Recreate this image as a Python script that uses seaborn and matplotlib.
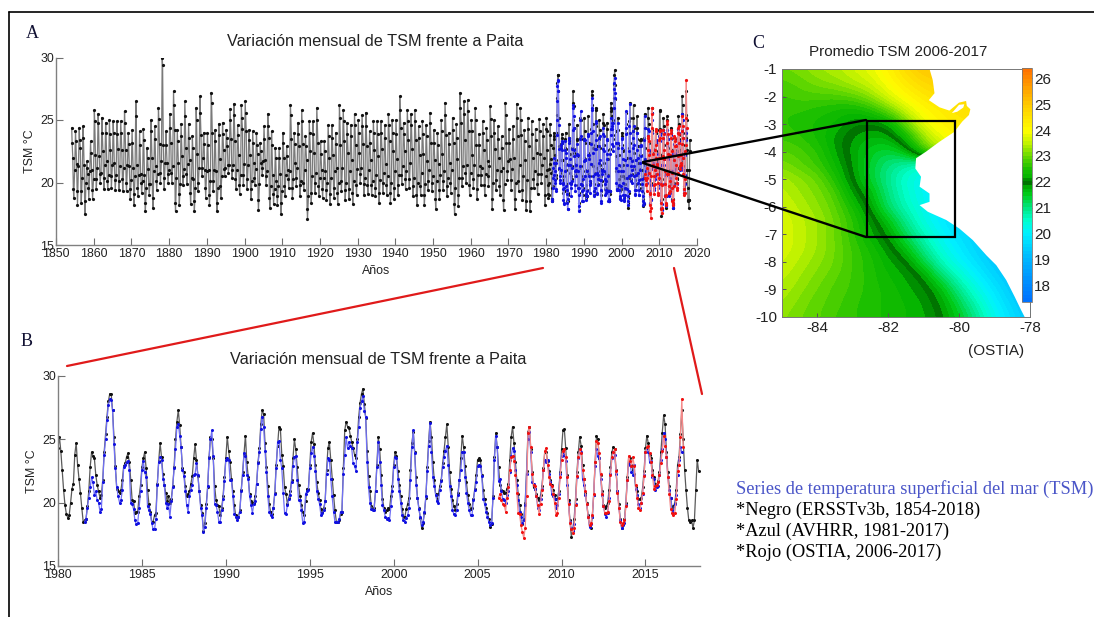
import numpy as np
import pandas as pd
import matplotlib
matplotlib.use("Agg")
import matplotlib.pyplot as plt
import seaborn as sns
from matplotlib.colors import LinearSegmentedColormap
from matplotlib.lines import Line2D

# ---- Panel A: ERSST 1854-1979, six readings per year
peak = [24.4,24.1,24.4,24.5,21.7,23.3,
 25.8,25.5,25.2,24.8,25.0,24.9,24.9,24.9,25.7,24.0,
 24.2,26.5,24.1,24.3,22.8,25.0,24.5,26.0,30.0,24.1,
 25.5,27.3,24.2,24.7,26.5,24.7,23.7,26.0,26.9,24.0,
 24.0,27.2,24.2,24.7,24.8,24.2,25.9,26.3,24.6,26.2,
 26.5,24.2,24.1,24.0,23.2,24.5,25.5,24.1,22.8,22.8,
 24.0,22.9,26.2,24.0,24.8,25.8,23.7,24.9,24.9,26.0,
 23.3,23.3,24.6,24.6,24.0,26.2,25.8,24.8,24.6,25.5,
 25.0,25.4,25.6,24.1,24.9,24.9,24.9,24.6,25.5,25.0,
 25.0,26.9,24.8,25.8,25.5,25.8,24.5,24.9,24.6,25.6,
 24.2,24.0,25.0,26.4,24.0,25.2,24.7,27.2,26.5,26.6,
 25.0,26.0,23.9,24.9,24.4,26.1,25.0,24.5,23.7,26.4,
 24.3,24.5,26.3,26.0,24.2,25.2,24.9,24.3,25.1,24.7]
after_peak = [23.2,23.3,23.4,23.6,21.2,22.4,
 24.9,24.8,24.0,24.0,23.9,24.0,23.9,24.0,24.8,23.1,
 23.2,25.3,23.0,23.4,22.0,24.1,23.5,25.1,29.4,23.0,
 24.4,26.2,23.3,23.7,25.3,23.6,22.8,25.0,25.6,23.1,
 23.0,26.4,23.3,23.8,23.9,23.6,25.0,25.4,23.8,25.2,
 25.6,23.4,23.2,23.0,22.5,23.5,24.5,23.0,22.0,22.0,
 23.2,22.1,25.4,23.1,23.9,24.9,22.9,24.0,23.9,25.0,
 22.3,22.5,23.7,23.6,23.1,25.2,24.9,23.9,23.7,24.6,
 24.0,24.5,24.5,23.2,24.0,23.9,24.0,23.6,24.6,24.0,
 23.9,25.8,23.9,24.9,24.6,24.9,23.6,23.9,23.7,24.8,
 23.2,23.0,24.1,25.4,23.1,24.2,23.6,26.0,25.5,25.7,
 24.1,25.0,23.0,24.0,23.4,25.1,24.0,23.5,22.8,25.4,
 23.2,23.5,25.2,25.0,23.3,24.3,23.9,23.4,24.1,23.7]
falling = [22.0,21.5,22.8,21.4,20.7,21.0,
 22.2,22.1,22.5,21.7,22.6,21.6,22.7,22.6,22.6,21.3,
 21.2,21.4,20.7,20.6,21.1,22.0,21.3,23.1,23.0,21.6,
 23.2,24.2,21.6,22.1,22.8,21.8,20.3,22.3,23.8,21.0,
 21.0,24.0,20.9,21.9,22.6,22.9,23.5,23.3,22.2,24.3,
 24.1,22.2,21.6,22.3,21.6,21.8,23.6,20.6,20.1,20.7,
 22.0,21.0,23.5,21.6,22.9,23.1,21.8,22.5,22.4,23.2,
 21.0,20.9,22.0,22.2,21.2,23.0,23.3,22.4,21.8,23.0,
 22.4,23.1,22.9,21.8,22.6,22.1,22.7,21.5,23.3,22.5,
 21.9,24.4,22.5,23.4,22.7,23.4,22.2,22.3,21.7,23.2,
 21.8,21.5,22.3,23.8,21.6,23.2,21.9,24.8,23.4,24.1,
 22.2,23.0,21.3,22.6,21.7,23.7,22.7,22.0,21.2,23.2,
 21.9,22.0,23.7,23.8,21.8,22.9,22.0,22.4,22.3,22.0]
before_trough = [19.5,19.3,19.3,18.5,19.6,19.4,
 20.3,20.7,20.4,20.1,20.5,20.2,20.1,20.3,20.0,19.5,
 19.1,19.6,20.0,18.4,19.9,18.8,20.1,20.8,20.4,20.7,
 20.8,18.4,19.1,20.5,20.7,19.2,18.5,20.0,21.2,19.6,
 19.0,20.1,18.4,19.7,21.1,21.4,21.0,20.3,19.8,20.6,
 20.3,19.5,20.4,18.6,21.2,20.5,18.8,19.1,18.9,18.4,
 19.7,20.3,19.6,20.4,19.8,20.0,17.9,19.2,20.0,19.7,
 19.5,19.4,19.1,19.6,19.2,20.1,19.4,19.5,19.2,19.8,
 20.7,19.9,19.8,19.8,19.6,19.2,20.0,19.8,19.2,19.6,
 19.8,20.6,20.3,20.3,19.7,19.0,19.7,19.0,20.1,20.0,
 18.7,19.4,20.1,19.7,20.0,18.3,19.0,20.4,20.8,19.8,
 20.3,19.5,20.6,19.8,20.5,18.7,20.2,19.7,18.6,20.9,
 20.2,18.7,20.1,19.4,18.5,18.5,20.3,19.9,20.7,19.0]
trough = [18.8,18.2,18.4,17.5,18.7,18.7,
 19.5,20.0,19.5,19.5,19.6,19.4,19.4,19.3,19.3,18.7,
 18.2,18.9,19.2,17.7,19.0,18.0,19.4,20.0,19.5,20.0,
 20.0,17.7,18.2,19.8,19.9,18.3,17.7,19.3,20.5,18.8,
 18.2,19.3,17.7,18.8,20.5,20.8,20.4,19.5,19.1,19.8,
 19.5,18.7,19.8,17.8,20.6,19.8,18.0,18.3,18.2,17.5,
 18.9,19.6,18.8,19.7,18.9,19.4,17.1,18.4,19.2,18.9,
 18.8,18.6,18.3,18.8,18.3,19.3,18.6,18.7,18.3,19.0,
 20.0,19.0,19.1,19.0,18.9,18.4,19.2,19.0,18.4,18.7,
 19.0,19.9,19.5,19.6,18.9,18.2,19.0,18.2,19.4,19.3,
 17.9,18.7,19.4,18.9,19.2,17.5,18.1,19.7,20.0,19.0,
 19.6,18.7,19.8,19.0,19.7,17.9,19.4,19.0,17.8,20.2,
 19.4,17.9,19.3,18.6,17.8,17.7,19.6,19.1,20.0,18.2]
rising = [21.0,21.3,20.4,20.0,20.9,20.3,
 21.2,20.8,21.4,20.6,21.4,20.6,21.3,21.2,21.4,20.2,
 20.5,20.6,20.1,19.6,19.9,20.9,20.7,21.7,21.6,21.0,
 21.3,20.4,19.9,21.1,21.5,20.4,19.6,21.2,22.0,20.9,
 20.1,21.0,19.6,20.5,21.2,21.4,21.4,21.0,20.6,21.5,
 21.4,20.1,21.1,19.9,21.7,20.9,19.7,19.5,19.7,19.3,
 20.6,20.9,20.3,21.2,20.1,21.0,18.9,20.5,20.8,20.4,
 20.4,20.0,20.4,20.9,20.0,21.2,20.0,20.9,20.1,21.1,
 21.2,20.4,21.0,20.1,20.6,20.2,20.8,20.5,20.0,20.9,
 20.6,21.3,20.9,21.6,20.4,20.0,20.8,19.9,21.0,20.5,
 20.1,20.6,20.9,20.4,21.0,19.6,20.4,21.3,21.4,20.8,
 21.4,20.6,21.2,20.7,21.3,20.0,21.0,20.9,19.9,21.7,
 21.1,20.0,21.4,20.5,20.2,19.6,20.9,20.7,21.4,20.5]
history_years = list(range(1854, 1980))
season_offsets = [0.17, 0.27, 0.45, 0.60, 0.70, 0.95]

# ---- Monthly series, Jan 1980 onward (black), Aug 1981 onward (blue), Apr 2006 onward (red)
black_start = 1980.0
black = [
 24.3,25.2,24.1,22.6,21.0,19.8,19.1,18.8,19.0,20.0,21.1,21.5,
 23.8,24.7,23.0,21.9,20.8,19.6,18.5,18.6,18.7,19.7,20.9,22.8,
 24.0,23.7,23.5,22.2,21.4,20.9,20.4,20.6,21.8,24.0,25.4,26.8,
 28.0,28.6,28.6,27.3,25.2,22.9,21.1,20.9,20.8,21.0,21.8,22.9,
 23.1,23.6,23.9,23.2,21.8,20.2,20.1,19.2,19.3,19.3,20.5,21.4,
 22.8,23.5,24.0,22.7,21.0,19.9,19.3,18.5,18.5,19.0,19.2,21.5,
 23.3,24.7,23.6,22.3,21.4,20.8,20.1,20.5,20.0,20.3,21.3,22.8,
 25.0,26.4,27.3,26.1,24.4,22.7,22.4,21.3,20.5,20.7,20.9,21.5,
 22.1,23.5,24.6,23.4,22.1,20.9,19.8,19.2,17.8,18.4,19.9,21.2,
 23.6,25.2,25.0,23.5,21.3,20.2,19.8,19.7,19.0,19.6,20.5,22.0,
 23.5,25.2,24.1,23.2,21.9,20.9,19.8,19.0,18.8,18.9,19.4,21.0,
 22.4,23.8,25.3,23.2,22.0,20.7,20.1,20.0,20.0,20.5,21.5,23.2,
 24.3,26.2,27.3,27.0,24.7,22.8,21.3,19.9,19.3,19.1,19.6,20.8,
 23.0,24.5,26.0,25.8,23.8,22.9,21.2,20.7,19.9,20.4,20.9,21.8,
 23.5,25.0,24.2,22.8,21.4,20.5,19.8,19.3,19.0,20.1,21.1,21.1,
 23.0,24.8,25.5,24.6,23.0,21.6,20.8,20.2,19.5,19.3,19.6,20.1,
 22.6,24.3,24.8,23.4,21.9,20.6,19.4,18.5,18.5,18.6,19.1,19.3,
 22.7,25.7,26.4,26.0,25.9,25.3,24.8,24.3,23.8,23.5,25.0,26.8,
 27.9,28.6,29.0,27.8,26.7,24.1,22.1,20.9,19.7,19.5,19.6,20.9,
 23.0,25.2,24.2,22.2,20.3,19.6,19.3,19.4,19.6,19.5,20.5,21.3,
 23.0,24.0,23.7,22.5,21.4,20.5,19.5,18.9,18.9,19.5,19.9,20.4,
 22.6,24.7,25.6,24.0,22.0,20.4,19.6,18.8,18.0,18.4,19.2,20.4,
 22.8,24.9,26.4,25.2,23.2,21.8,20.7,20.3,20.7,21.3,21.8,23.1,
 24.1,25.2,26.2,24.4,22.4,21.1,20.2,19.7,19.4,19.9,20.8,21.8,
 23.5,25.3,24.4,22.9,21.6,20.6,19.9,19.5,19.6,20.3,21.1,22.2,
 23.4,23.5,23.4,22.2,21.0,20.3,19.6,19.2,18.7,18.1,18.3,20.5,
 23.6,25.5,24.4,22.8,21.4,21.0,20.9,20.8,20.8,21.1,21.5,23.4,
 25.2,26.0,24.7,23.2,21.8,20.7,19.8,19.1,18.3,18.7,20.0,22.5,
 25.6,26.0,24.2,22.4,21.2,21.1,20.7,20.4,20.2,20.6,21.3,22.7,
 24.0,24.0,23.3,22.5,21.8,21.4,21.0,20.6,20.3,20.3,20.9,22.4,
 24.2,25.7,25.8,24.3,22.2,20.2,18.6,17.3,17.9,18.7,20.3,22.4,
 24.0,25.2,24.5,23.0,21.9,20.8,20.0,19.0,18.2,18.0,18.9,20.6,
 23.2,25.3,25.0,23.5,22.2,20.9,19.8,19.6,19.7,20.0,21.0,22.8,
 24.0,24.4,24.2,22.6,20.9,19.9,18.7,18.0,18.3,18.7,20.0,22.0,
 23.6,23.5,23.0,22.6,22.3,21.2,20.9,20.3,20.3,20.4,21.2,22.5,
 24.3,25.3,24.7,23.8,23.5,22.6,22.0,21.5,21.4,21.7,22.4,24.0,
 25.5,26.9,26.2,24.0,22.4,21.3,20.4,19.6,19.7,20.0,21.0,23.0,
 23.6,25.4,27.3,25.0,22.6,21.0,19.6,18.6,18.5,18.6,18.0,18.6,
 21.0,23.4,22.5]
blue_start = 1981 + 7/12
blue = [
 18.5,18.7,19.6,20.4,21.2,
 22.0,21.6,20.6,20.9,20.2,20.0,19.3,19.5,21.6,23.8,25.0,26.5,
 27.7,28.2,28.1,27.3,24.6,22.7,21.2,20.5,20.0,20.2,21.0,22.8,
 23.0,23.2,23.3,22.6,20.0,19.9,19.5,18.6,18.3,18.4,19.6,20.9,
 22.6,23.3,22.4,22.0,19.7,19.4,19.1,18.4,17.9,17.9,18.7,21.4,
 23.2,23.6,23.4,21.9,21.4,20.0,19.6,19.9,18.9,20.1,21.2,22.7,
 24.2,26.0,26.2,25.3,24.4,22.6,22.1,20.9,19.8,19.3,20.5,21.0,
 21.4,22.2,22.3,23.1,22.2,20.9,19.6,19.0,17.7,18.1,19.6,21.3,
 23.5,25.0,25.7,23.7,19.9,19.8,19.3,18.5,18.5,19.4,20.3,21.7,
 23.4,23.5,23.4,21.8,21.8,20.5,19.1,18.9,18.6,18.9,19.3,20.9,
 22.2,23.9,23.7,22.2,21.9,20.5,19.8,19.2,19.9,20.1,21.5,23.1,
 24.0,25.8,26.8,26.0,24.1,22.4,20.5,19.3,19.0,18.9,19.6,20.7,
 22.7,24.8,24.9,23.4,22.7,20.8,19.2,19.1,19.8,20.3,20.6,21.6,
 22.9,23.6,23.7,21.8,20.2,20.2,19.4,18.4,18.5,20.7,20.9,21.0,
 22.7,23.9,24.4,23.7,22.5,20.9,20.3,19.9,19.0,19.2,19.4,20.1,
 22.3,23.5,23.4,21.9,20.5,19.3,18.5,18.5,18.5,18.7,19.3,19.3,
 22.3,23.8,25.2,24.3,24.8,24.5,24.3,23.1,22.9,22.5,24.8,26.0,
 27.5,28.0,28.4,27.2,26.8,23.2,21.2,20.0,19.5,19.4,19.4,20.9,
 22.8,24.8,23.2,21.4,19.8,19.4,18.9,18.7,18.8,18.6,19.7,20.9,
 22.8,23.6,23.5,21.9,20.9,20.0,19.0,18.6,18.5,18.8,19.0,19.6,
 21.8,24.4,25.7,23.9,21.4,20.4,19.5,18.9,18.2,18.5,19.3,20.5,
 22.5,24.5,26.3,24.0,22.0,21.3,20.6,20.1,20.0,21.0,21.7,22.8,
 23.6,24.1,24.5,23.0,21.3,20.5,19.4,19.1,19.0,19.4,20.6,21.8,
 22.6,24.0,24.0,22.0,20.8,20.0,19.4,19.0,19.0,20.2,21.0,21.6,
 22.9,23.0,22.9,22.1,20.3,19.9,19.3,18.9,18.5,18.2,18.4,20.4,
 23.4,25.3,24.4,21.7,21.9,20.9,20.3,20.2,20.0,20.6,20.9,22.4,
 23.7,24.3,24.1,22.6,21.4,20.2,19.3,18.9,18.4,18.6,19.8,22.3,
 25.0,25.6,24.0,21.6,21.5,21.1,20.5,19.6,19.4,20.3,21.1,22.6,
 23.4,23.2,23.4,22.3,21.6,20.7,20.5,20.3,19.6,19.8,20.7,22.3,
 23.7,24.0,23.8,23.3,21.4,20.0,18.5,18.0,17.8,18.3,19.9,22.0,
 23.5,24.2,24.0,21.9,21.4,20.6,19.9,18.9,18.1,18.3,18.9,20.6,
 22.9,24.2,23.7,23.5,21.9,20.6,19.7,19.1,18.9,19.2,20.4,22.3,
 23.5,24.0,23.8,22.3,20.9,19.6,18.6,18.0,18.2,18.4,19.8,21.8,
 23.1,23.0,22.4,22.2,23.0,21.1,20.6,19.9,19.6,20.0,20.7,22.2,
 24.0,24.3,24.0,23.2,23.3,22.0,21.9,21.0,21.2,21.3,22.2,23.4,
 24.2,25.5,25.0,23.6,22.0,21.0,20.4,19.4,19.2,19.9,20.6,22.2,
 23.4,24.4,24.0]
red_start = 2006 + 3/12
red = [
 20.4,20.7,20.2,19.9,19.8,19.3,20.4,21.2,22.6,
 23.6,23.7,23.3,22.2,20.8,19.2,19.1,18.2,17.7,17.2,18.0,20.5,
 25.5,26.0,24.4,22.3,21.4,21.3,20.5,19.8,19.1,19.9,21.0,22.6,
 24.1,24.3,23.0,22.0,21.5,21.3,20.7,20.0,19.0,19.2,20.4,22.0,
 23.4,24.1,24.2,23.6,22.0,19.9,18.4,17.9,17.6,18.0,19.8,22.1,
 23.6,24.2,23.9,22.6,21.9,20.9,19.9,18.9,18.2,18.4,19.0,20.7,
 23.2,24.9,24.7,23.9,22.3,20.7,19.7,19.2,19.2,19.3,20.1,22.2,
 23.6,24.0,24.2,22.5,20.8,19.6,18.5,18.2,18.4,18.6,19.7,21.8,
 23.7,23.3,22.9,23.6,22.9,21.4,20.4,19.6,19.4,20.0,20.8,22.1,
 24.0,24.4,24.5,23.9,23.2,22.2,21.1,21.3,21.4,21.6,22.2,23.1,
 24.1,25.3,24.5,23.6,22.0,20.7,19.5,19.2,19.0,19.2,20.3,22.5,
 23.0,25.2,28.2,24.4]

# ---- Panel C: mean SST on a half-degree grid
grid_lon = [-85,-84.5,-84,-83.5,-83,-82.5,-82,-81.5,-81,-80.5,-80,-79.5,-79,-78.5,-78]
grid_lat = [-1,-1.5,-2,-2.5,-3,-3.5,-4,-4.5,-5,-5.5,-6,-6.5,-7,-7.5,-8,-8.5,-9,-9.5,-10]
sst_rows = [
 [23.0,23.1,23.3,23.4,23.6,23.8,24.2,24.7,25.1,25.0,25.0,25.0,25.0,25.0,25.0],
 [22.8,22.9,23.1,23.2,23.4,23.6,24.0,24.4,24.7,24.9,25.0,25.0,25.0,25.0,25.0],
 [22.7,22.8,22.8,22.8,22.9,23.2,23.7,24.1,24.4,24.6,24.7,24.7,24.7,24.7,24.7],
 [22.6,22.6,22.5,22.4,22.3,22.5,23.0,23.6,24.1,24.3,24.5,24.5,24.5,24.5,24.5],
 [22.6,22.5,22.4,22.3,22.02,21.97,22.05,23.0,23.8,24.2,24.4,24.4,24.4,24.4,24.4],
 [22.7,22.6,22.4,22.1,21.85,21.7,21.75,22.3,23.3,23.8,24.2,24.2,24.2,24.2,24.2],
 [22.9,22.8,22.6,22.15,21.8,21.5,21.3,21.7,22.8,23.5,24.0,24.0,24.0,24.0,24.0],
 [23.1,22.9,22.7,22.3,21.85,21.4,21.0,20.7,20.4,20.4,20.4,20.4,20.4,20.4,20.4],
 [23.4,23.2,23.0,22.5,21.9,21.4,20.9,20.4,20.1,20.1,20.0,20.0,20.0,20.0,20.0],
 [23.5,23.3,23.1,22.8,22.1,21.7,21.0,20.5,20.1,19.9,19.9,19.9,19.9,19.9,19.9],
 [23.6,23.4,23.2,22.9,22.4,21.85,21.1,20.6,20.2,19.9,19.7,19.6,19.6,19.6,19.6],
 [23.7,23.5,23.3,23.0,22.6,22.1,21.6,20.9,20.3,19.9,19.6,19.5,19.5,19.5,19.5],
 [23.7,23.5,23.3,23.0,22.6,22.2,21.85,21.2,20.6,20.1,19.7,19.4,19.4,19.4,19.4],
 [23.7,23.5,23.3,23.0,22.7,22.4,22.05,21.6,20.9,20.3,19.9,19.5,19.2,19.2,19.2],
 [23.6,23.4,23.2,23.0,22.7,22.5,22.2,22.0,21.3,20.6,20.1,19.7,19.3,19.1,19.1],
 [23.5,23.3,23.1,22.9,22.7,22.5,22.3,22.15,21.9,21.1,20.5,20.0,19.5,19.2,19.0],
 [23.4,23.2,23.0,22.8,22.7,22.5,22.4,22.2,22.05,21.7,20.9,20.3,19.8,19.3,19.0],
 [23.3,23.1,22.9,22.8,22.6,22.5,22.4,22.3,22.15,21.85,21.3,20.6,20.0,19.5,19.1],
 [23.2,23.0,22.9,22.7,22.6,22.5,22.4,22.3,22.2,21.95,21.5,20.9,20.2,19.7,19.2]]
coast_lon = [-80.83,-80.74,-80.69,-80.85,-80.55,-80.27,-80.16,-80.0,-79.8,-79.78,-79.68,-79.72,-79.91,-80.13,-80.55,-80.93,-81.21,-81.23,-81.07,-81.11,-80.83,-80.83,-81.11,-80.88,-80.36,-79.99,-79.61,-79.23,-78.95,-78.67,-78.43,-78.25,-78.15,-78,-78]
coast_lat = [-1.0,-1.4,-1.88,-2.13,-2.39,-2.51,-2.39,-2.22,-2.16,-2.34,-2.46,-2.67,-2.91,-3.28,-3.64,-4.0,-4.24,-4.61,-4.91,-5.27,-5.52,-5.82,-5.94,-6.18,-6.48,-6.79,-7.21,-7.76,-8.12,-8.66,-9.27,-9.75,-10.0,-10,-1]
gulf_lon = [-80.0,-79.85,-79.88,-80.05,-80.2,-80.1]
gulf_lat = [-2.30,-2.28,-2.40,-2.55,-2.60,-2.45]
box_lon = [-82.6,-80.1]
box_lat = [-2.87,-7.08]
cmap_levels = [17.35,18,19,20,20.5,21,21.5,21.85,22,22.15,22.5,23,23.5,24,25,26.4]
cmap_colors = [(0,.45,1),(0,.55,1),(0,.72,1),(0,.95,1),(0,1,.8),(0,.9,.5),(0,.8,.1),(0,.65,0),(0,.35,0),(0,.7,0),(.1,.75,0),(.4,.85,0),(.75,.95,0),(1,1,0),(1,.8,0),(1,.45,0)]
cbar_ticks = [18,19,20,21,22,23,24,25,26]

W, H = 1094, 617
sns.set_theme(style="white")
plt.rcParams["font.family"] = ["Liberation Sans", "DejaVu Sans"]
plt.rcParams["axes.unicode_minus"] = False
fig = plt.figure(figsize=(W/100, H/100), dpi=100)

def box_axes(left, right, top, bottom):
    return fig.add_axes([left/W, 1-bottom/H, (right-left)/W, (bottom-top)/H])

def px(x, y, s, **kw):
    fig.text(x/W, 1-y/H, s, **kw)

def segment(x0, y0, x1, y1, color, lw):
    fig.add_artist(Line2D([x0/W, x1/W], [1-y0/H, 1-y1/H], color=color, lw=lw, zorder=6, transform=fig.transFigure))

def series(ax, x, y, line, mark, ms, lw):
    sns.lineplot(x=x, y=y, ax=ax, color=line, lw=lw, marker="o", markersize=ms,
                 markerfacecolor=mark, markeredgecolor=mark, markeredgewidth=0, errorbar=None, estimator=None, sort=False)

def style_axes(ax):
    sns.despine(ax=ax)
    for s in ("left", "bottom"):
        ax.spines[s].set_color("#808080")
        ax.spines[s].set_linewidth(1.0)
    ax.tick_params(direction="in", length=5, width=0.8, color="#707070", labelsize=8.9, labelcolor="#222222", pad=2.5, left=True, bottom=True)
    ax.tick_params(axis="y", pad=1.5)
    ax.set_facecolor("none")

t_black = black_start + np.arange(len(black))/12
t_blue = blue_start + np.arange(len(blue))/12
t_red = red_start + np.arange(len(red))/12
hist = pd.DataFrame({"peak": peak, "after_peak": after_peak, "falling": falling,
                     "before_trough": before_trough, "trough": trough, "rising": rising}, index=history_years)
t_hist = np.concatenate([y + np.array(season_offsets) for y in history_years])
v_hist = hist.to_numpy().ravel()

# Panel A
axA = box_axes(56, 697, 57.5, 245)
series(axA, np.concatenate([t_hist, t_black]), np.concatenate([v_hist, black]), "#7a7a7a", "#111111", 2.3, 0.9)
series(axA, t_blue, blue, "#8080f5", "#1010e0", 2.3, 0.9)
series(axA, t_red, red, "#f58a8a", "#f01010", 2.3, 0.9)
axA.set_xlim(1850, 2020); axA.set_ylim(15, 30)
axA.set_xticks(np.arange(1850, 2021, 10)); axA.set_yticks([15, 20, 25, 30])
style_axes(axA)
axA.set_xlabel("Años", fontsize=8.9, labelpad=3.5, color="#222222")
axA.set_ylabel("TSM °C", fontsize=8.9, labelpad=3, color="#222222")
px(375, 41, "Variación mensual de TSM frente a Paita", fontsize=11.7, ha="center", va="center", color="#222222")

# Panel B
axB = box_axes(58, 700, 376, 566)
series(axB, t_black, black, "#5a5a5a", "#111111", 2.2, 0.9)
series(axB, t_blue, blue, "#7070f5", "#1010e0", 2.2, 0.9)
series(axB, t_red, red, "#f58a8a", "#f01010", 2.2, 0.9)
axB.set_xlim(1980, 2018.25); axB.set_ylim(15, 30)
axB.set_xticks(np.arange(1980, 2016, 5)); axB.set_yticks([15, 20, 25, 30])
style_axes(axB)
axB.set_xlabel("Años", fontsize=8.9, labelpad=3, color="#222222")
axB.set_ylabel("TSM °C", fontsize=8.9, labelpad=3, color="#222222")
px(378, 360, "Variación mensual de TSM frente a Paita", fontsize=11.7, ha="center", va="center", color="#222222")

# Panel C
axC = box_axes(781.5, 1030, 69, 317)
cmap = LinearSegmentedColormap.from_list("tsm", [((v-cmap_levels[0])/(cmap_levels[-1]-cmap_levels[0]), c) for v, c in zip(cmap_levels, cmap_colors)], N=64)
im = axC.imshow(np.array(sst_rows), extent=(grid_lon[0]-.25, grid_lon[-1]+.25, grid_lat[-1]-.25, grid_lat[0]+.25),
                origin="upper", aspect="auto", cmap=cmap, vmin=cmap_levels[0], vmax=cmap_levels[-1],
                interpolation="bicubic", interpolation_stage="data")
axC.fill(coast_lon, coast_lat, color="white", lw=0, zorder=2)
axC.fill(gulf_lon, gulf_lat, color="white", lw=0, zorder=2)
axC.plot([box_lon[0], box_lon[1], box_lon[1], box_lon[0], box_lon[0]],
         [box_lat[0], box_lat[0], box_lat[1], box_lat[1], box_lat[0]], color="black", lw=1.6, zorder=3, solid_joinstyle="miter")
axC.set_xlim(-85, -78); axC.set_ylim(-10, -1)
axC.set_xticks([-84, -82, -80, -78]); axC.set_yticks(grid_lat[::2])
axC.tick_params(direction="in", length=3, width=0.7, color="#555555", labelsize=11, labelcolor="#222222", pad=3, left=True, bottom=True)
axC.grid(False)
for s in axC.spines.values():
    s.set_color("#777777"); s.set_linewidth(0.7)
cax = box_axes(1022, 1032, 68, 302)
cb = fig.colorbar(im, cax=cax)
cb.set_ticks(cbar_ticks)
cb.ax.tick_params(direction="in", length=2, width=0.6, color="#555555", labelsize=11, labelcolor="#222222", pad=1.5, right=True)
cb.outline.set_edgecolor("#777777"); cb.outline.set_linewidth(0.6)
px(996, 351, "(OSTIA)", fontsize=11, ha="center", va="center", color="#222222")
px(898, 52, "Promedio TSM 2006-2017", fontsize=11, ha="center", va="center", color="#222222")

# Labels and notes
serif = ["Liberation Serif", "DejaVu Serif"]
px(32, 34, "A", fontsize=13, family=serif, ha="center", va="center", color="#111133")
px(27, 342, "B", fontsize=13, family=serif, ha="center", va="center", color="#111133")
px(758, 43, "C", fontsize=13, family=serif, ha="center", va="center", color="#111133")
px(736, 489, "Series de temperatura superficial del mar (TSM)", fontsize=13.2, family=serif, va="center", color="#4a55c8")
px(736, 510, "*Negro (ERSSTv3b, 1854-2018)", fontsize=13.2, family=serif, va="center", color="black")
px(736, 531, "*Azul (AVHRR, 1981-2017)", fontsize=13.2, family=serif, va="center", color="black")
px(736, 552, "*Rojo (OSTIA, 2006-2017)", fontsize=13.2, family=serif, va="center", color="black")

# Connectors and frame
segment(643, 162, 866, 120, "black", 1.7)
segment(643, 163, 866, 237, "black", 1.7)
segment(67, 366, 543, 268, "#e01a1a", 1.6)
segment(674, 268, 702, 394, "#e01a1a", 1.6)
segment(9, 12, 1094, 12, "black", 1.2)
segment(9, 12, 9, 617, "black", 1.2)

fig.savefig("out.png", dpi=100)
